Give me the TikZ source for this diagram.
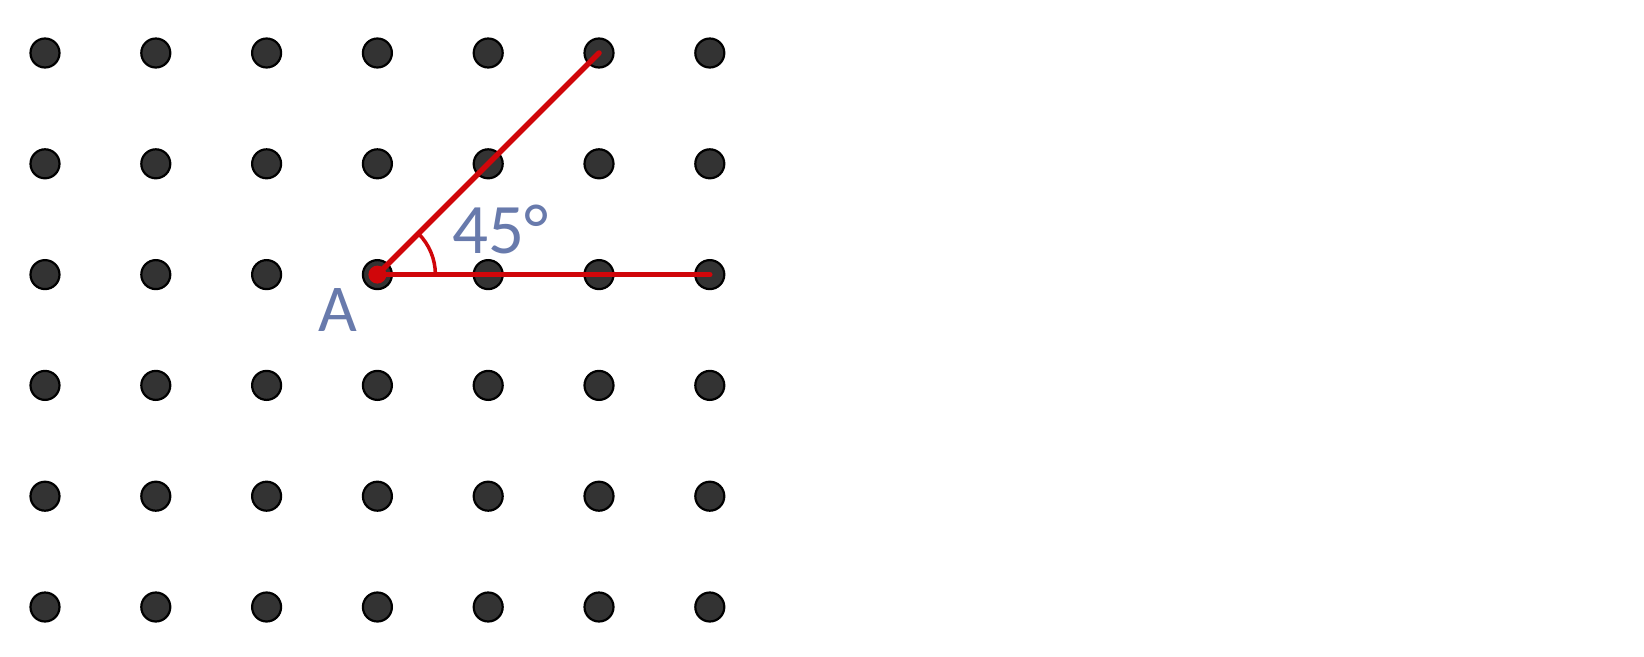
\documentclass[tikz,border=0pt]{standalone}
\usepackage{fontspec}
\setmainfont{Carlito}
\definecolor{lblue}{RGB}{104,122,172}
\definecolor{lred}{RGB}{208,6,10}
\begin{document}
\begin{tikzpicture}[x=1pt,y=-1pt,
  dot/.style={circle,fill=black!80,draw=black,line width=2.2pt,minimum size=29pt,inner sep=0pt},
  ray/.style={draw=lred,line width=5.5pt,line cap=round},
  lbl/.style={text=lblue,draw=none,inner sep=0pt,font=\fontsize{71}{85}\selectfont}]
\useasboundingbox[fill=white] (0,0) rectangle (1644,656);
\foreach \i in {0,...,6} \foreach \j in {0,...,5}
  \node[dot] (d\i\j) at ({45+110.8*\i},{53+110.8*\j}) {};
\draw[ray] (d32.center) -- (d50.center);
\draw[ray] (d32.center) -- (d62.center);
\fill[lred] (d32.center) circle[radius=9];
\draw[draw=lred,line width=3.5pt] ([shift={(0:58)}]d32.center) arc[start angle=0,end angle=-45,radius=58];
\node[lbl] (ang) at (501,229) {45°};
\node[lbl,font=\fontsize{67}{80}\selectfont] (lA) at (338,310) {A};
\end{tikzpicture}
\end{document}
